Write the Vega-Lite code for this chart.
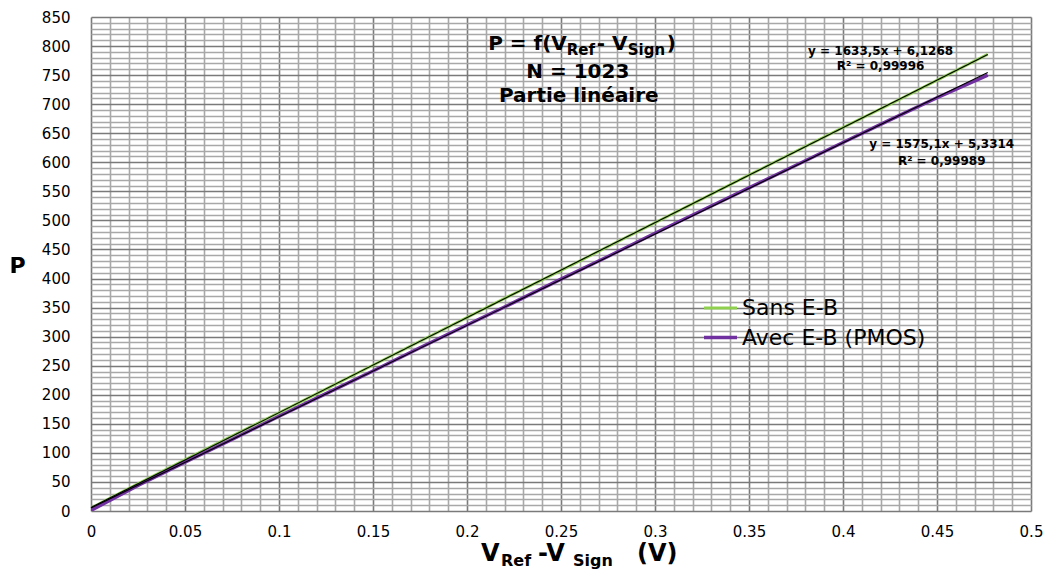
{
  "$schema": "https://vega.github.io/schema/vega-lite/v6.json",
  "width": 940,
  "height": 494,
  "autosize": {"type": "none"},
  "padding": {"left": 91, "top": 17, "right": 16, "bottom": 61},
  "background": "white",
  "config": {"view": {"stroke": null}, "font": "DejaVu Sans"},
  "resolve": {"axis": {"x": "independent", "y": "independent"}},
  "data": {"values": [
    {"series": "Sans E-B", "v": 0, "P": 5},
    {"series": "Sans E-B", "v": 0.025, "P": 47},
    {"series": "Sans E-B", "v": 0.05, "P": 88},
    {"series": "Sans E-B", "v": 0.075, "P": 129},
    {"series": "Sans E-B", "v": 0.1, "P": 169},
    {"series": "Sans E-B", "v": 0.125, "P": 210},
    {"series": "Sans E-B", "v": 0.15, "P": 251},
    {"series": "Sans E-B", "v": 0.175, "P": 292},
    {"series": "Sans E-B", "v": 0.2, "P": 333},
    {"series": "Sans E-B", "v": 0.225, "P": 374},
    {"series": "Sans E-B", "v": 0.25, "P": 414},
    {"series": "Sans E-B", "v": 0.275, "P": 455},
    {"series": "Sans E-B", "v": 0.3, "P": 496},
    {"series": "Sans E-B", "v": 0.325, "P": 537},
    {"series": "Sans E-B", "v": 0.35, "P": 578},
    {"series": "Sans E-B", "v": 0.375, "P": 619},
    {"series": "Sans E-B", "v": 0.4, "P": 660},
    {"series": "Sans E-B", "v": 0.425, "P": 700},
    {"series": "Sans E-B", "v": 0.45, "P": 741},
    {"series": "Sans E-B", "v": 0.477, "P": 786},
    {"series": "Avec E-B (PMOS)", "v": 0, "P": 1},
    {"series": "Avec E-B (PMOS)", "v": 0.025, "P": 44},
    {"series": "Avec E-B (PMOS)", "v": 0.05, "P": 84},
    {"series": "Avec E-B (PMOS)", "v": 0.075, "P": 123},
    {"series": "Avec E-B (PMOS)", "v": 0.1, "P": 163},
    {"series": "Avec E-B (PMOS)", "v": 0.125, "P": 202},
    {"series": "Avec E-B (PMOS)", "v": 0.15, "P": 241},
    {"series": "Avec E-B (PMOS)", "v": 0.175, "P": 281},
    {"series": "Avec E-B (PMOS)", "v": 0.2, "P": 320},
    {"series": "Avec E-B (PMOS)", "v": 0.225, "P": 359},
    {"series": "Avec E-B (PMOS)", "v": 0.25, "P": 399},
    {"series": "Avec E-B (PMOS)", "v": 0.275, "P": 438},
    {"series": "Avec E-B (PMOS)", "v": 0.3, "P": 478},
    {"series": "Avec E-B (PMOS)", "v": 0.325, "P": 517},
    {"series": "Avec E-B (PMOS)", "v": 0.35, "P": 556},
    {"series": "Avec E-B (PMOS)", "v": 0.375, "P": 595},
    {"series": "Avec E-B (PMOS)", "v": 0.4, "P": 634},
    {"series": "Avec E-B (PMOS)", "v": 0.425, "P": 673},
    {"series": "Avec E-B (PMOS)", "v": 0.45, "P": 711},
    {"series": "Avec E-B (PMOS)", "v": 0.477, "P": 750}
  ]},
  "layer": [
    {
      "mark": {"type": "line", "clip": true},
      "encoding": {
        "x": {
          "field": "v", "type": "quantitative",
          "scale": {"domain": [0, 0.5], "nice": false, "zero": false},
          "axis": {
            "title": null, "domain": false, "ticks": false,
            "values": [0,0.01,0.02,0.03,0.04,0.05,0.06,0.07,0.08,0.09,0.1,0.11,0.12,0.13,0.14,0.15,0.16,0.17,0.18,0.19,0.2,0.21,0.22,0.23,0.24,0.25,0.26,0.27,0.28,0.29,0.3,0.31,0.32,0.33,0.34,0.35,0.36,0.37,0.38,0.39,0.4,0.41,0.42,0.43,0.44,0.45,0.46,0.47,0.48,0.49,0.5],
            "labelExpr": "abs(datum.value*20 - round(datum.value*20)) < 0.000001 ? format(datum.value, '~g') : ''",
            "labelFontSize": 15, "labelColor": "#000000", "labelPadding": 13,
            "labelFont": "DejaVu Sans", "labelOverlap": false, "labelFlush": false,
            "gridColor": {"condition": {"test": "abs(datum.value*20 - round(datum.value*20)) < 0.000001", "value": "#7a7a7a"}, "value": "#a8a8a8"},
            "gridWidth": 1.6, "gridOpacity": 1
          }
        },
        "y": {
          "field": "P", "type": "quantitative",
          "scale": {"domain": [0, 850], "nice": false},
          "axis": {
            "title": "P", "titleAngle": 0, "titleFontSize": 22, "titleFontWeight": "bold",
            "titleFont": "DejaVu Sans", "titleColor": "#000000",
            "titleX": -74, "titleY": 248, "titleAlign": "center", "titleBaseline": "middle",
            "domain": false, "ticks": false,
            "values": [0,10,20,30,40,50,60,70,80,90,100,110,120,130,140,150,160,170,180,190,200,210,220,230,240,250,260,270,280,290,300,310,320,330,340,350,360,370,380,390,400,410,420,430,440,450,460,470,480,490,500,510,520,530,540,550,560,570,580,590,600,610,620,630,640,650,660,670,680,690,700,710,720,730,740,750,760,770,780,790,800,810,820,830,840,850],
            "labelExpr": "datum.value % 50 == 0 ? format(datum.value, 'd') : ''",
            "labelFontSize": 15, "labelColor": "#000000", "labelPadding": 21,
            "labelFont": "DejaVu Sans", "labelOverlap": false, "labelFlush": false,
            "gridColor": {"condition": {"test": "datum.value % 50 == 0", "value": "#7a7a7a"}, "value": "#a8a8a8"},
            "gridWidth": 1.6, "gridOpacity": 1
          }
        },
        "color": {
          "field": "series", "type": "nominal",
          "scale": {"domain": ["Sans E-B", "Avec E-B (PMOS)"], "range": ["#8fd14f", "#7030a0"]},
          "legend": {
            "title": null, "orient": "none", "legendX": 611, "legendY": 273,
            "symbolType": "stroke", "symbolSize": 1089, "symbolStrokeWidth": 2,
            "labelFontSize": 22, "labelFont": "DejaVu Sans", "labelColor": "#000000",
            "labelOffset": 3, "rowPadding": 0, "padding": 0, "labelLimit": 500
          }
        },
        "strokeWidth": {
          "field": "series", "type": "nominal",
          "scale": {"domain": ["Sans E-B", "Avec E-B (PMOS)"], "range": [2.8, 3.4]},
          "legend": null
        }
      }
    },
    {
      "transform": [{"regression": "P", "on": "v", "groupby": ["series"], "method": "linear"}],
      "mark": {"type": "line", "color": "#000000", "strokeWidth": 1.1},
      "encoding": {
        "x": {"field": "v", "type": "quantitative", "axis": null},
        "y": {"field": "P", "type": "quantitative", "axis": null},
        "detail": {"field": "series", "type": "nominal"}
      }
    },
    {
      "data": {"values": [{"t": "P = f(V"}]},
      "mark": {"type": "text", "align": "right", "baseline": "alphabetic", "fontSize": 20, "fontWeight": "bold", "dx": -13, "dy": 33, "color": "#000000"},
      "encoding": {"x": {"datum": 0.26, "axis": null}, "y": {"datum": 850, "axis": null}, "text": {"field": "t"}}
    },
    {
      "data": {"values": [{"t": "Ref"}]},
      "mark": {"type": "text", "align": "left", "baseline": "alphabetic", "fontSize": 15, "fontWeight": "bold", "dx": -13, "dy": 38, "color": "#000000"},
      "encoding": {"x": {"datum": 0.26, "axis": null}, "y": {"datum": 850, "axis": null}, "text": {"field": "t"}}
    },
    {
      "data": {"values": [{"t": "- V"}]},
      "mark": {"type": "text", "align": "left", "baseline": "alphabetic", "fontSize": 20, "fontWeight": "bold", "dx": 17, "dy": 33, "color": "#000000"},
      "encoding": {"x": {"datum": 0.26, "axis": null}, "y": {"datum": 850, "axis": null}, "text": {"field": "t"}}
    },
    {
      "data": {"values": [{"t": "Sign"}]},
      "mark": {"type": "text", "align": "left", "baseline": "alphabetic", "fontSize": 15, "fontWeight": "bold", "dx": 48, "dy": 38, "color": "#000000"},
      "encoding": {"x": {"datum": 0.26, "axis": null}, "y": {"datum": 850, "axis": null}, "text": {"field": "t"}}
    },
    {
      "data": {"values": [{"t": ")"}]},
      "mark": {"type": "text", "align": "left", "baseline": "alphabetic", "fontSize": 20, "fontWeight": "bold", "dx": 87, "dy": 33, "color": "#000000"},
      "encoding": {"x": {"datum": 0.26, "axis": null}, "y": {"datum": 850, "axis": null}, "text": {"field": "t"}}
    },
    {
      "data": {"values": [{"t": "N = 1023"}]},
      "mark": {"type": "text", "align": "center", "baseline": "alphabetic", "fontSize": 20, "fontWeight": "bold", "dx": -2, "dy": 61, "color": "#000000"},
      "encoding": {"x": {"datum": 0.26, "axis": null}, "y": {"datum": 850, "axis": null}, "text": {"field": "t"}}
    },
    {
      "data": {"values": [{"t": "Partie linéaire"}]},
      "mark": {"type": "text", "align": "center", "baseline": "alphabetic", "fontSize": 20, "fontWeight": "bold", "dx": -1, "dy": 85, "color": "#000000"},
      "encoding": {"x": {"datum": 0.26, "axis": null}, "y": {"datum": 850, "axis": null}, "text": {"field": "t"}}
    },
    {
      "data": {"values": [{"t": "y = 1633,5x + 6,1268"}]},
      "mark": {"type": "text", "align": "center", "baseline": "alphabetic", "fontSize": 12, "fontWeight": "bold", "dy": 38, "color": "#000000"},
      "encoding": {"x": {"datum": 0.42, "axis": null}, "y": {"datum": 850, "axis": null}, "text": {"field": "t"}}
    },
    {
      "data": {"values": [{"t": "R² = 0,99996"}]},
      "mark": {"type": "text", "align": "center", "baseline": "alphabetic", "fontSize": 12, "fontWeight": "bold", "dy": 53, "color": "#000000"},
      "encoding": {"x": {"datum": 0.42, "axis": null}, "y": {"datum": 850, "axis": null}, "text": {"field": "t"}}
    },
    {
      "data": {"values": [{"t": "y = 1575,1x + 5,3314"}]},
      "mark": {"type": "text", "align": "center", "baseline": "alphabetic", "fontSize": 12, "fontWeight": "bold", "dy": 131, "color": "#000000"},
      "encoding": {"x": {"datum": 0.4525, "axis": null}, "y": {"datum": 850, "axis": null}, "text": {"field": "t"}}
    },
    {
      "data": {"values": [{"t": "R² = 0,99989"}]},
      "mark": {"type": "text", "align": "center", "baseline": "alphabetic", "fontSize": 12, "fontWeight": "bold", "dy": 148, "color": "#000000"},
      "encoding": {"x": {"datum": 0.4525, "axis": null}, "y": {"datum": 850, "axis": null}, "text": {"field": "t"}}
    },
    {
      "data": {"values": [{"t": "V"}]},
      "mark": {"type": "text", "align": "left", "baseline": "alphabetic", "fontSize": 24, "fontWeight": "bold", "dx": -80, "dy": 50, "color": "#000000"},
      "encoding": {"x": {"datum": 0.25, "axis": null}, "y": {"datum": 0, "axis": null}, "text": {"field": "t"}}
    },
    {
      "data": {"values": [{"t": "Ref"}]},
      "mark": {"type": "text", "align": "left", "baseline": "alphabetic", "fontSize": 16, "fontWeight": "bold", "dx": -60, "dy": 55, "color": "#000000"},
      "encoding": {"x": {"datum": 0.25, "axis": null}, "y": {"datum": 0, "axis": null}, "text": {"field": "t"}}
    },
    {
      "data": {"values": [{"t": "-V"}]},
      "mark": {"type": "text", "align": "left", "baseline": "alphabetic", "fontSize": 24, "fontWeight": "bold", "dx": -23, "dy": 50, "color": "#000000"},
      "encoding": {"x": {"datum": 0.25, "axis": null}, "y": {"datum": 0, "axis": null}, "text": {"field": "t"}}
    },
    {
      "data": {"values": [{"t": "Sign"}]},
      "mark": {"type": "text", "align": "left", "baseline": "alphabetic", "fontSize": 16, "fontWeight": "bold", "dx": 12, "dy": 55, "color": "#000000"},
      "encoding": {"x": {"datum": 0.25, "axis": null}, "y": {"datum": 0, "axis": null}, "text": {"field": "t"}}
    },
    {
      "data": {"values": [{"t": "(V)"}]},
      "mark": {"type": "text", "align": "left", "baseline": "alphabetic", "fontSize": 24, "fontWeight": "bold", "dx": 76, "dy": 50, "color": "#000000"},
      "encoding": {"x": {"datum": 0.25, "axis": null}, "y": {"datum": 0, "axis": null}, "text": {"field": "t"}}
    }
  ]
}
